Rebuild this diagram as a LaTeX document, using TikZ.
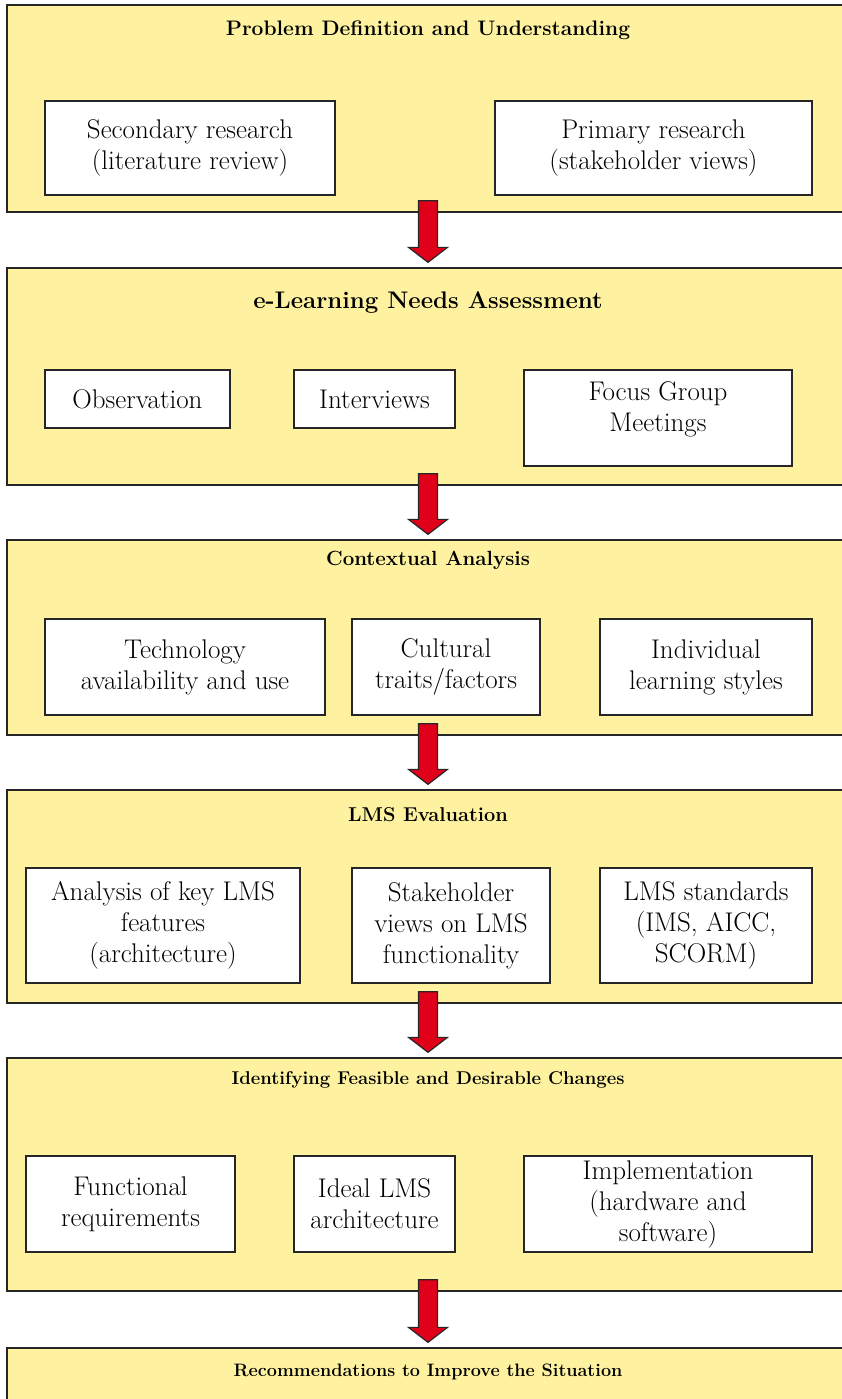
\documentclass[tikz,border=0pt]{standalone}
\usetikzlibrary{calc}
\definecolor{paneyellow}{RGB}{254,242,160}
\definecolor{arrowred}{RGB}{224,0,26}
\newcommand{\redarrow}[2]{%
  \coordinate (tip) at ($(#2.north)+(0,-5)$);
  \draw[redarr] ($(#1.south)+(-9.5,-12)$) -- ($(tip)+(-9.5,-15)$) -- ($(tip)+(-19.5,-15)$)
    -- (tip) -- ($(tip)+(19.5,-15)$) -- ($(tip)+(9.5,-15)$) -- ($(#1.south)+(9.5,-12)$) -- cycle;}
\begin{document}
\begin{tikzpicture}[x=1pt,y=-1pt,
    panel/.style={draw=black!85, line width=1.3pt, fill=paneyellow, minimum width=842pt, inner sep=0pt},
    box/.style={draw=black!85, line width=1.3pt, fill=white, align=center, inner sep=0pt,
      text=black, font=\fontsize{27}{31}\selectfont},
    title/.style={text=black, font=\bfseries\fontsize{20}{24}\selectfont},
    redarr/.style={draw=black!85, line width=1.2pt, fill=arrowred, line join=miter}]
  \useasboundingbox (0,0) rectangle (841,1399);
  \node[panel, minimum height=207pt] (p1) at (428,108.5) {};
  \node[panel, minimum height=217pt] (p2) at (428,376.5) {};
  \node[panel, minimum height=195pt] (p3) at (428,637.5) {};
  \node[panel, minimum height=213pt] (p4) at (428,896.5) {};
  \node[panel, minimum height=233pt] (p5) at (428,1174.5) {};
  \node[panel, minimum height=82pt] (p6) at (428,1389) {};
  \redarrow{p1}{p2}
  \redarrow{p2}{p3}
  \redarrow{p3}{p4}
  \redarrow{p4}{p5}
  \redarrow{p5}{p6}
  \node[title, font=\bfseries\fontsize{21}{25}\selectfont] (t1) at (428,30) {Problem Definition and Understanding};
  \node[box, minimum width=290pt, minimum height=94pt] (sec) at (190,148) {Secondary research\\(literature review)};
  \node[box, minimum width=317pt, minimum height=94pt] (pri) at (653.5,148) {Primary research\\(stakeholder views)};
  \node[title, font=\bfseries\fontsize{24}{28}\selectfont] (t2) at (428,303) {e-Learning Needs Assessment};
  \node[box, minimum width=185pt, minimum height=58pt] (obs) at (137.5,399) {Observation};
  \node[box, minimum width=161pt, minimum height=58pt] (int) at (374.5,399) {Interviews};
  \node[box, minimum width=268pt, minimum height=96pt, text depth=22pt] (foc) at (658,418) {Focus Group\\Meetings};
  \node[title, font=\bfseries\fontsize{20.5}{24}\selectfont] (t3) at (428,560) {Contextual Analysis};
  \node[box, minimum width=280pt, minimum height=96pt] (tech) at (185,667) {Technology\\availability and use};
  \node[box, minimum width=188pt, minimum height=96pt] (cult) at (446,667) {Cultural\\traits/factors};
  \node[box, minimum width=212pt, minimum height=96pt] (ind) at (706,667) {Individual\\learning styles};
  \node[title] (t4) at (428,815) {LMS Evaluation};
  \node[box, minimum width=274pt, minimum height=115pt] (ana) at (163,925.5) {Analysis of key LMS\\features\\(architecture)};
  \node[box, minimum width=198pt, minimum height=115pt] (stk) at (451,925.5) {Stakeholder\\views on LMS\\functionality};
  \node[box, minimum width=212pt, minimum height=115pt] (std) at (706,925.5) {LMS standards\\(IMS, AICC,\\SCORM)};
  \node[title, font=\bfseries\fontsize{18.5}{22}\selectfont] (t5) at (428,1080) {Identifying Feasible and Desirable Changes};
  \node[box, minimum width=209pt, minimum height=96pt] (fun) at (130.5,1204) {Functional\\requirements};
  \node[box, minimum width=161pt, minimum height=96pt] (ide) at (374.5,1204) {Ideal LMS\\architecture};
  \node[box, minimum width=288pt, minimum height=96pt] (imp) at (668,1204) {Implementation\\(hardware and\\software)};
  \node[title, font=\bfseries\fontsize{18}{22}\selectfont] (t6) at (428,1372) {Recommendations to Improve the Situation};
\end{tikzpicture}
\end{document}
